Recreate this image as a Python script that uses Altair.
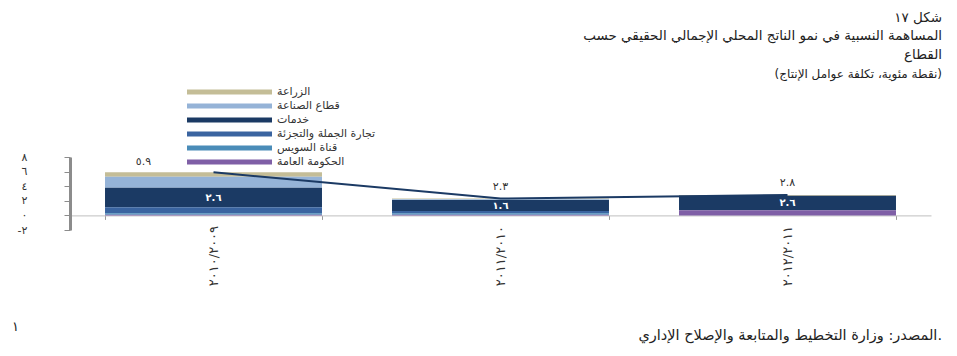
import altair as alt
import pandas as pd

# ---- data ----
categories = ["٢٠١٠/٢٠٠٩", "٢٠١١/٢٠١٠", "٢٠١٢/٢٠١١"]
sectors = ["الزراعة", "قطاع الصناعة", "خدمات", "تجارة الجملة والتجزئة", "قناة السويس", "الحكومة العامة"]
colors = ["#c4bd97", "#95b3d7", "#1b3a64", "#3a64a0", "#4a8cb8", "#7f5fa6"]
agri = [0.6, 0.1, 0.1]
industry = [1.5, 0.1, 0.0]
services = [2.7, 1.5, 2.0]
trade = [0.8, 0.3, 0.0]
suez = [0.2, 0.2, 0.0]
government = [0.1, 0.1, 0.7]
totals = [5.9, 2.3, 2.8]
total_labels = ["٥.٩", "٢.٣", "٢.٨"]
services_labels = ["٢.٦", "١.٦", "٢.٦"]
y_tick_values = [-2, 0, 2, 4, 6, 8]
y_tick_labels = ["-٢", "٠", "٢", "٤", "٦", "٨"]

title_lines = [
    "شكل ١٧",
    "المساهمة النسبية في نمو الناتج المحلي الإجمالي الحقيقي حسب",
    "القطاع",
    "(نقطة مئوية، تكلفة عوامل الإنتاج)",
]
source_text = "المصدر: وزارة التخطيط والمتابعة والإصلاح الإداري."
page_number = "١"

FONT = "DejaVu Sans"
NAVY = "#1b3a64"

# ---- tables ----
series = [agri, industry, services, trade, suez, government]
rows = []
for ci, cat in enumerate(categories):
    for si, sec in enumerate(sectors):
        rows.append({"cat": cat, "sector": sec, "value": series[si][ci],
                     "stack": len(sectors) - 1 - si})
df = pd.DataFrame(rows)

svc_mid = [government[i] + suez[i] + trade[i] + services[i] / 2 for i in range(len(categories))]
df_tot = pd.DataFrame({"cat": categories, "total": totals, "label": total_labels,
                       "svc_mid": svc_mid, "svc_label": services_labels})
df_leg = pd.DataFrame({"sector": sectors, "row": list(range(len(sectors)))})

yscale = alt.Scale(domain=[y_tick_values[0], y_tick_values[-1]], nice=False, zero=False)
label_expr = " : ".join(
    [f"datum.value == {v} ? '{l}'" for v, l in zip(y_tick_values, y_tick_labels)]
) + " : ''"

x_enc = alt.X(
    "cat:N", sort=categories,
    scale=alt.Scale(paddingInner=0.244, paddingOuter=0.122),
    axis=alt.Axis(title=None, labelAngle=270, labelFontSize=13, labelColor="#333",
                  labelFont=FONT, labelPadding=6, tickBand="extent", tickSize=4,
                  tickColor="#999", domainColor="#bfbfbf", offset=-14.6),
)
color_enc = alt.Color("sector:N", scale=alt.Scale(domain=sectors, range=colors), legend=None)

bars = alt.Chart(df).mark_bar().encode(
    x=x_enc,
    y=alt.Y("value:Q", stack="zero", scale=yscale,
            axis=alt.Axis(title=None, values=y_tick_values, labelExpr=label_expr, grid=False,
                          domainColor="#8c8c8c", domainWidth=3, tickColor="#8c8c8c",
                          tickSize=6, labelPadding=37, labelFontSize=11, labelColor="#333",
                          labelFont=FONT)),
    color=color_enc,
    order=alt.Order("stack:Q"),
)

line = alt.Chart(df_tot).mark_line(color=NAVY, strokeWidth=2).encode(
    x=alt.X("cat:N", sort=categories),
    y=alt.Y("total:Q", scale=yscale, axis=None),
)

tot_first = alt.Chart(df_tot).transform_filter(alt.datum.cat == categories[0]).mark_text(
    font=FONT, fontSize=11, color="#333", dx=-70, dy=-10
).encode(x=alt.X("cat:N", sort=categories), y=alt.Y("total:Q", scale=yscale, axis=None), text="label:N")

tot_rest = alt.Chart(df_tot).transform_filter(alt.datum.cat != categories[0]).mark_text(
    font=FONT, fontSize=11, color="#333", dy=-12
).encode(x=alt.X("cat:N", sort=categories), y=alt.Y("total:Q", scale=yscale, axis=None), text="label:N")

svc_text = alt.Chart(df_tot).mark_text(
    font=FONT, fontSize=10, fontWeight="bold", color="white"
).encode(x=alt.X("cat:N", sort=categories), y=alt.Y("svc_mid:Q", scale=yscale, axis=None), text="svc_label:N")

leg_scale = alt.Scale(domain=[0, len(sectors) - 1], range=[-65, 5], nice=False, zero=False)
leg_sw = alt.Chart(df_leg).mark_rule(strokeWidth=5).encode(
    x=alt.value(117), x2=alt.value(202),
    y=alt.Y("row:Q", scale=leg_scale, axis=None),
    color=color_enc,
)
leg_tx = alt.Chart(df_leg).mark_text(font=FONT, fontSize=11, color="#333", align="left", baseline="middle").encode(
    x=alt.value(207),
    y=alt.Y("row:Q", scale=leg_scale, axis=None),
    text="sector:N",
)

def note(text, x, y, size, align="right", weight="normal"):
    return alt.Chart(pd.DataFrame({"t": [text]})).mark_text(
        font=FONT, fontSize=size, color="#222", align=align, baseline="middle", fontWeight=weight
    ).encode(text="t:N", x=alt.value(x), y=alt.value(y))

notes = [
    note(title_lines[0], 872, -139, 13.5),
    note(title_lines[1], 872, -121, 13.5),
    note(title_lines[2], 872, -102, 13.5),
    note(title_lines[3], 872, -83, 12),
    note(source_text, 872, 179, 14.5),
    note(page_number, -58, 170, 13, align="left"),
]

chart = alt.layer(bars, line, svc_text, tot_first, tot_rest, leg_sw, leg_tx, *notes).resolve_scale(
    y="independent"
).properties(
    width=861, height=73,
    padding={"left": 62, "top": 149, "right": 16, "bottom": 118},
    autosize=alt.AutoSizeParams(type="none"),
).configure_view(stroke=None)

chart.save("out.html", embed_options={"renderer": "svg", "actions": False})
